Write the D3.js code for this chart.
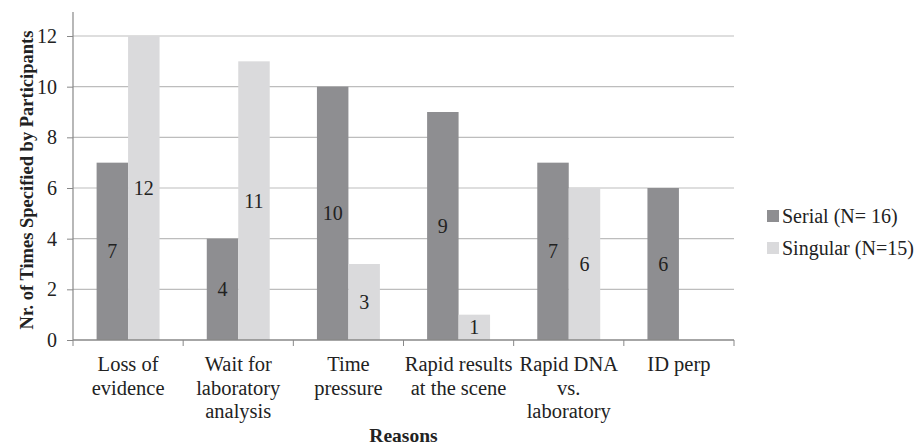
<!DOCTYPE html>
<html>
<head>
<meta charset="utf-8">
<script src="https://cdn.jsdelivr.net/npm/d3@7"></script>
<style>
  body { margin: 0; background: #fff; }
</style>
</head>
<body>
<div id="chart"></div>
<script>
// chart data
const categories = [
  ['Loss of', 'evidence'],
  ['Wait for', 'laboratory', 'analysis'],
  ['Time', 'pressure'],
  ['Rapid results', 'at the scene'],
  ['Rapid DNA', 'vs.', 'laboratory'],
  ['ID perp']
];
const serialValues = [7, 4, 10, 9, 7, 6];
const singularValues = [12, 11, 3, 1, 6, null];
const seriesNames = ['Serial (N= 16)', 'Singular (N=15)'];
const yTicks = [0, 2, 4, 6, 8, 10, 12];

const W = 917, H = 447;
const plot = { left: 73, right: 734, top: 12, bottom: 340 };
const colors = ['#8e8e91', '#dadadc'];
const FONT = '"Liberation Serif"';
const TXT = '#222';

const svg = d3.select('#chart').append('svg')
  .attr('width', W).attr('height', H);

const x = d3.scaleBand()
  .domain(d3.range(categories.length))
  .range([plot.left, plot.right])
  .paddingInner(0)
  .paddingOuter(0);

// two bars per category, ~31px wide each
const xInner = d3.scaleBand()
  .domain([0, 1])
  .range([0, x.bandwidth()])
  .paddingOuter(0.75)
  .paddingInner(0);

const y = d3.scaleLinear()
  .domain([0, 12])
  .range([plot.bottom, 36]);

// gridlines
svg.append('g')
  .selectAll('line')
  .data(yTicks.filter(d => d > 0))
  .join('line')
  .attr('x1', plot.left).attr('x2', plot.right)
  .attr('y1', d => y(d)).attr('y2', d => y(d))
  .attr('stroke', '#bdbdbd').attr('stroke-width', 1.2);

// bars
const series = [serialValues, singularValues];
const groups = svg.append('g');
series.forEach((vals, si) => {
  const pts = vals.map((v, i) => ({ v, i })).filter(d => d.v != null);
  groups.append('g')
    .selectAll('rect')
    .data(pts)
    .join('rect')
    .attr('x', d => x(d.i) + xInner(si))
    .attr('width', xInner.bandwidth())
    .attr('y', d => y(d.v))
    .attr('height', d => y(0) - y(d.v))
    .attr('fill', colors[si]);

  // value labels centred in the bar
  groups.append('g')
    .selectAll('text')
    .data(pts)
    .join('text')
    .attr('x', d => x(d.i) + xInner(si) + xInner.bandwidth() / 2)
    .attr('y', d => y(d.v / 2))
    .attr('dy', '0.35em')
    .attr('text-anchor', 'middle')
    .style('font-family', FONT)
    .style('font-size', '20px')
    .style('fill', TXT)
    .text(d => d.v);
});

// y axis
const yAxis = d3.axisLeft(y).tickValues(yTicks).tickSize(6).tickPadding(10);
const yAxisG = svg.append('g')
  .attr('transform', `translate(${plot.left},0)`)
  .call(yAxis);
yAxisG.select('.domain').remove();
yAxisG.selectAll('.tick line').attr('stroke', '#888');
yAxisG.selectAll('.tick text')
  .style('font-size', '20px')
  .style('font-family', FONT)
  .style('fill', TXT);
svg.append('line')
  .attr('x1', plot.left).attr('x2', plot.left)
  .attr('y1', plot.top).attr('y2', plot.bottom)
  .attr('stroke', '#888').attr('stroke-width', 1.2);

// x axis
svg.append('line')
  .attr('x1', plot.left).attr('x2', plot.right)
  .attr('y1', plot.bottom).attr('y2', plot.bottom)
  .attr('stroke', '#888').attr('stroke-width', 1.5);
svg.append('g')
  .selectAll('line')
  .data(d3.range(categories.length + 1))
  .join('line')
  .attr('x1', d => plot.left + d * x.bandwidth())
  .attr('x2', d => plot.left + d * x.bandwidth())
  .attr('y1', plot.bottom).attr('y2', plot.bottom + 6)
  .attr('stroke', '#888');

const catLabels = svg.append('g')
  .selectAll('text')
  .data(categories)
  .join('text')
  .attr('text-anchor', 'middle')
  .attr('x', (d, i) => x(i) + x.bandwidth() / 2)
  .attr('y', 371)
  .style('font-family', FONT)
  .style('font-size', '20.5px')
  .style('fill', TXT);
catLabels.selectAll('tspan')
  .data(d => d)
  .join('tspan')
  .attr('x', function () { return d3.select(this.parentNode).attr('x'); })
  .attr('dy', (d, i) => i === 0 ? 0 : 23.5)
  .text(d => d);

// axis titles
svg.append('text')
  .attr('transform', `translate(33,180) rotate(-90)`)
  .attr('text-anchor', 'middle')
  .style('font-family', FONT)
  .style('font-size', '18.5px')
  .style('font-weight', 'bold')
  .style('fill', TXT)
  .text('Nr. of Times Specified by Participants');

svg.append('text')
  .attr('x', (plot.left + plot.right) / 2)
  .attr('y', 442)
  .attr('text-anchor', 'middle')
  .style('font-family', FONT)
  .style('font-size', '19.5px')
  .style('font-weight', 'bold')
  .style('fill', TXT)
  .text('Reasons');

// legend
const legend = svg.append('g').attr('transform', 'translate(767,216)');
seriesNames.forEach((name, i) => {
  const g = legend.append('g').attr('transform', `translate(0,${i * 32})`);
  g.append('rect')
    .attr('x', 0).attr('y', -6)
    .attr('width', 12).attr('height', 12)
    .attr('fill', colors[i]);
  g.append('text')
    .attr('x', 15).attr('y', 0)
    .attr('dy', '0.35em')
    .style('font-family', FONT)
    .style('font-size', '20px')
    .style('fill', TXT)
    .text(name);
});
</script>
</body>
</html>
